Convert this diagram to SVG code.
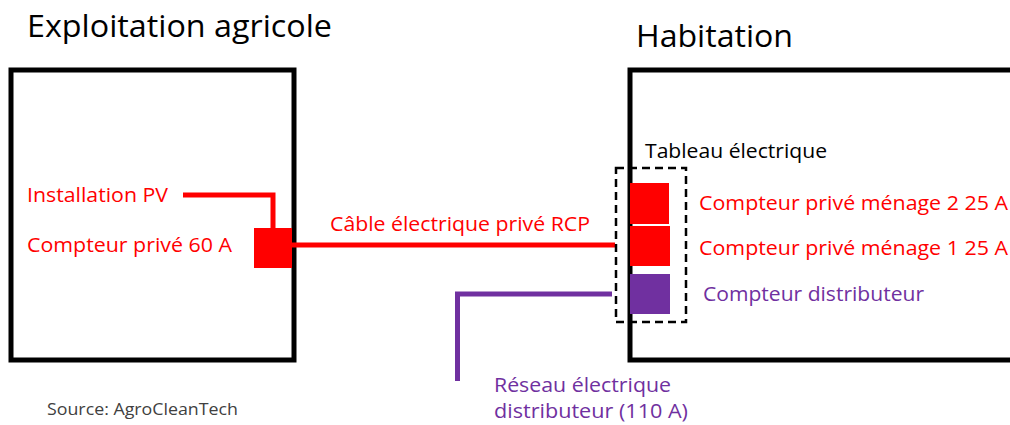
<svg xmlns="http://www.w3.org/2000/svg" width="1010" height="425" viewBox="0 0 1010 425">
<style>
text{font-family:"Open Sans","Liberation Sans",sans-serif}
.title{font-size:31px;fill:#000}
.lbl{font-size:20.5px}
.red{fill:#FF0000}
.pur{fill:#7030A0}
.box{fill:none;stroke:#000;stroke-width:5}
.rline{fill:none;stroke:#FF0000;stroke-width:5}
.pline{fill:none;stroke:#7030A0;stroke-width:5}
</style>
<rect width="1010" height="425" fill="#fff"/>
<g id="exploitation">
<rect class="box" x="11" y="70" width="283" height="290"/>
<text class="title" x="27" y="37" textLength="305" lengthAdjust="spacingAndGlyphs">Exploitation agricole</text>
</g>
<g id="habitation">
<rect class="box" x="630" y="70" width="400" height="290"/>
<text class="title" x="636" y="47" textLength="157" lengthAdjust="spacingAndGlyphs">Habitation</text>
</g>
<g id="connectors">
<polyline class="rline" points="183,195 273,195 273,230"/>
<line class="rline" x1="292" y1="245" x2="615" y2="245"/>
<polyline class="pline" points="612,294 457.5,294 457.5,381"/>
</g>
<g id="installation-pv">
<text class="lbl red" x="27" y="202" textLength="141" lengthAdjust="spacingAndGlyphs">Installation PV</text>
</g>
<g id="compteur-prive-60">
<rect x="254" y="228" width="38" height="40" fill="#FF0000"/>
<text class="lbl red" x="27" y="252" textLength="205" lengthAdjust="spacingAndGlyphs">Compteur privé 60 A</text>
</g>
<g id="cable-label">
<text class="lbl red" x="330" y="231" textLength="260" lengthAdjust="spacingAndGlyphs">Câble électrique privé RCP</text>
</g>
<g id="tableau">
<rect x="616" y="168" width="70" height="154" fill="none" stroke="#000" stroke-width="2.5" stroke-dasharray="8 5"/>
<text class="lbl" x="645" y="158" fill="#000" font-size="19.5" textLength="182" lengthAdjust="spacingAndGlyphs">Tableau électrique</text>
</g>
<g id="compteur-menage-2">
<rect x="630" y="183" width="39" height="41" fill="#FF0000"/>
<text class="lbl red" x="699" y="210" textLength="309" lengthAdjust="spacingAndGlyphs">Compteur privé ménage 2 25 A</text>
</g>
<g id="compteur-menage-1">
<rect x="630" y="226" width="40" height="40" fill="#FF0000"/>
<text class="lbl red" x="699" y="255" textLength="309" lengthAdjust="spacingAndGlyphs">Compteur privé ménage 1 25 A</text>
</g>
<g id="compteur-distributeur">
<rect x="630" y="274" width="40" height="40" fill="#7030A0"/>
<text class="lbl pur" x="703" y="301" textLength="221" lengthAdjust="spacingAndGlyphs">Compteur distributeur</text>
</g>
<g id="reseau">
<text class="lbl pur" x="494" y="392" textLength="177" lengthAdjust="spacingAndGlyphs">Réseau électrique</text>
<text class="lbl pur" x="494" y="418" textLength="194" lengthAdjust="spacingAndGlyphs">distributeur (110 A)</text>
</g>
<g id="source">
<text x="47" y="415" font-size="16" fill="#404040" textLength="191" lengthAdjust="spacingAndGlyphs">Source: AgroCleanTech</text>
</g>
</svg>
